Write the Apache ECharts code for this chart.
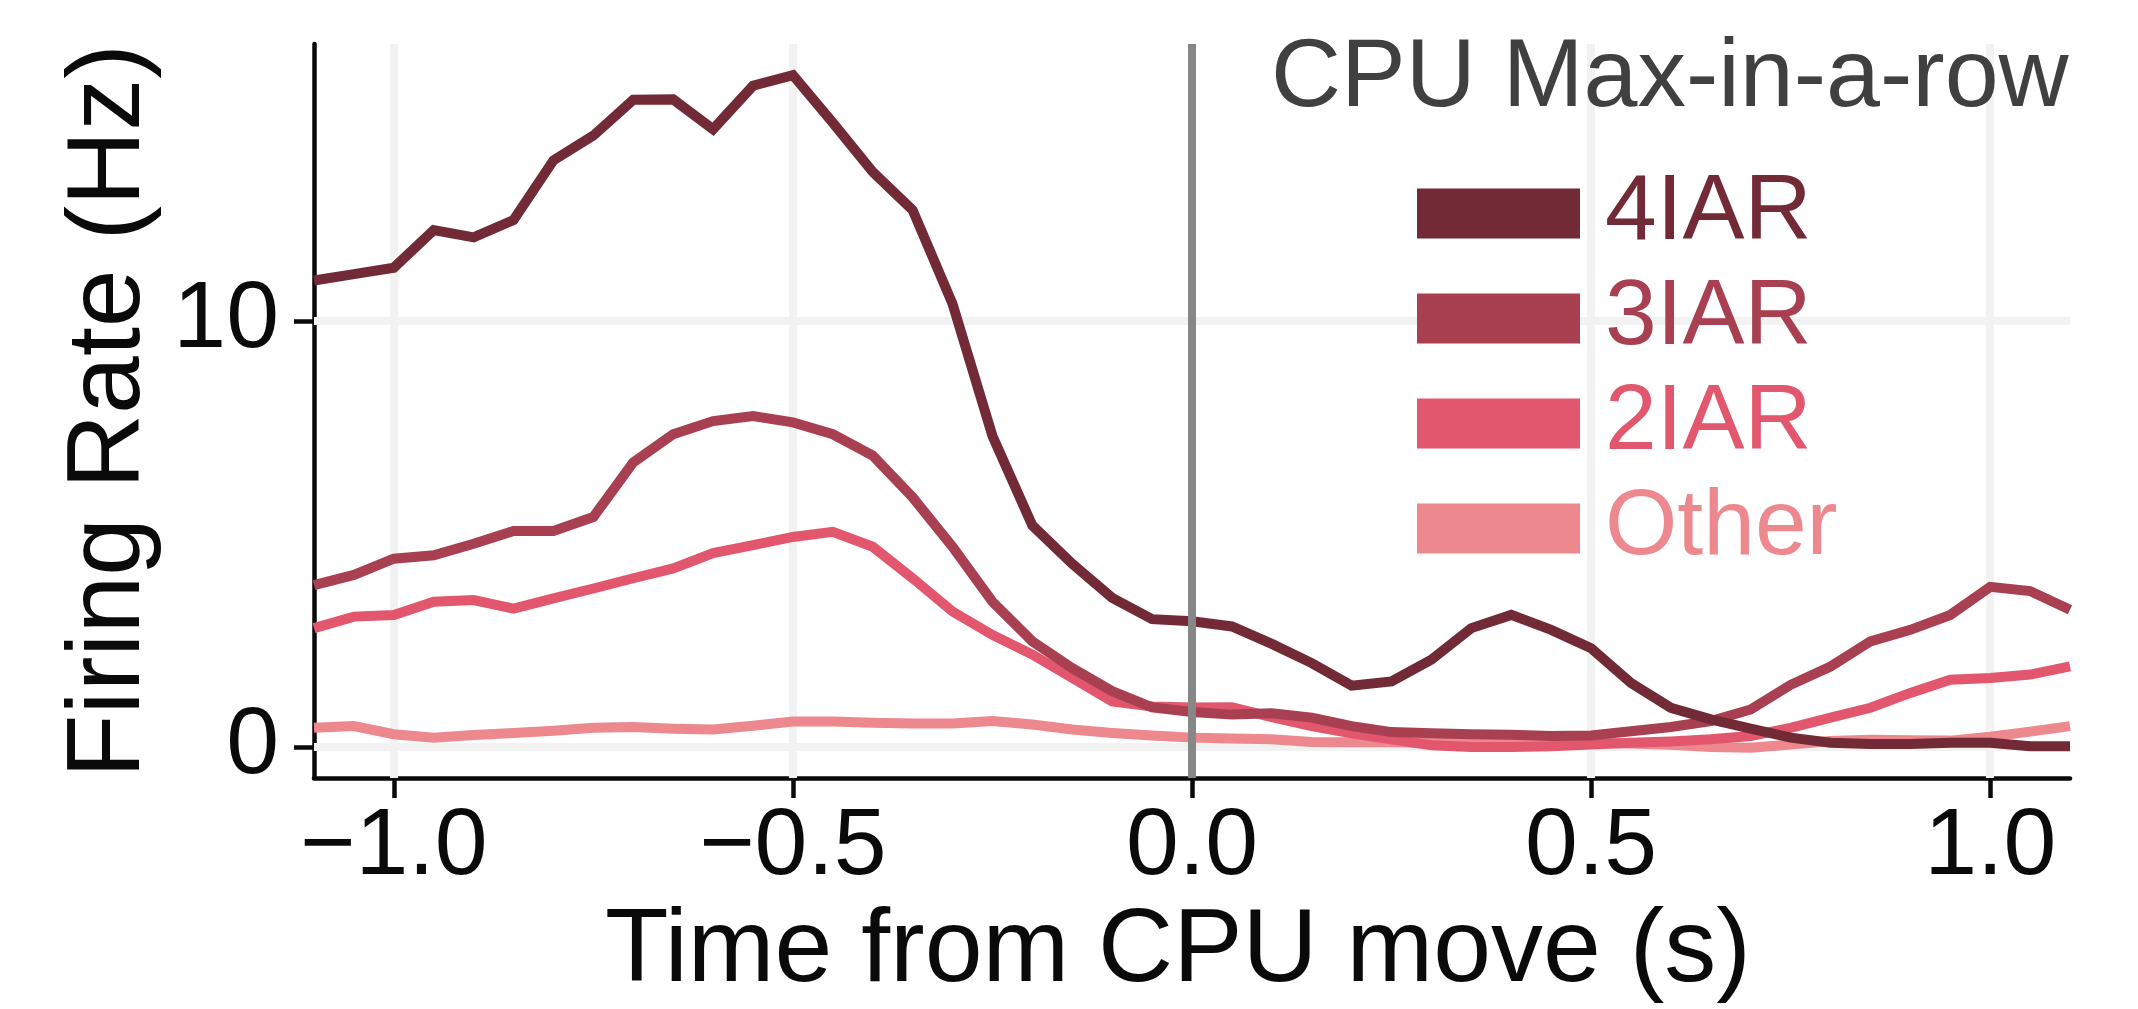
<!DOCTYPE html>
<html>
<head>
<meta charset="utf-8">
<script src="https://cdn.jsdelivr.net/npm/echarts@6/dist/echarts.min.js"></script>
<style>html,body{margin:0;padding:0;background:#fff;}#c{width:2138px;height:1009px;}</style>
</head>
<body>
<div id="c"></div>
<script>
const times = [-1.1,-1.05,-1.0,-0.95,-0.9,-0.85,-0.8,-0.75,-0.7,-0.65,-0.6,-0.55,-0.5,-0.45,-0.4,-0.35,-0.3,-0.25,-0.2,-0.15,-0.1,-0.05,0,0.05,0.1,0.15,0.2,0.25,0.3,0.35,0.4,0.45,0.5,0.55,0.6,0.65,0.7,0.75,0.8,0.85,0.9,0.95,1.0,1.05,1.1];
const iar4 = [10.95,11.1,11.25,12.13,11.96,12.37,13.77,14.35,15.19,15.2,14.5,15.52,15.77,14.65,13.5,12.6,10.4,7.3,5.2,4.3,3.5,3.0,2.95,2.83,2.42,1.97,1.44,1.54,2.05,2.79,3.1,2.75,2.32,1.5,0.92,0.65,0.43,0.22,0.1,0.07,0.07,0.1,0.1,0.02,0.02];
const iar3 = [3.8,4.04,4.42,4.5,4.77,5.07,5.07,5.4,6.68,7.34,7.65,7.77,7.62,7.34,6.84,5.86,4.7,3.41,2.48,1.85,1.31,0.93,0.82,0.76,0.79,0.69,0.49,0.35,0.32,0.3,0.29,0.26,0.27,0.37,0.47,0.61,0.88,1.46,1.89,2.48,2.75,3.1,3.76,3.66,3.22];
const iar2 = [2.79,3.06,3.1,3.41,3.45,3.25,3.49,3.72,3.96,4.19,4.55,4.74,4.93,5.05,4.7,3.96,3.18,2.63,2.17,1.62,1.07,0.95,0.93,0.93,0.7,0.49,0.32,0.18,0.04,0.0,0.0,0.02,0.06,0.1,0.13,0.18,0.26,0.45,0.69,0.92,1.27,1.58,1.62,1.7,1.89];
const other = [0.45,0.49,0.3,0.22,0.28,0.33,0.38,0.45,0.47,0.43,0.41,0.5,0.6,0.6,0.57,0.55,0.55,0.61,0.53,0.41,0.33,0.27,0.22,0.2,0.18,0.12,0.11,0.11,0.1,0.12,0.12,0.1,0.1,0.08,0.05,0.0,-0.02,0.06,0.14,0.17,0.16,0.15,0.24,0.36,0.49];
const seriesNames = ['4IAR','3IAR','2IAR','Other'];
const seriesColors = ['#712a36','#a84051','#e2566e','#ec888e'];
const xTicks = [-1.0,-0.5,0.0,0.5,1.0];
const yTicks = [0,10];
const xGrid = [-1.0,-0.5,0.5,1.0];
const yGrid = [0,10];
const eventTime = [0];

const FONT = '"Liberation Sans", Arial, Helvetica, sans-serif';
const seriesVals = [iar4, iar3, iar2, other];
const toPairs = v => times.map((t,i)=>[t, v[i]]);

const lineSeries = seriesNames.map((n,i)=>({
  name:n, type:'line', data: toPairs(seriesVals[i]), symbol:'none', smooth:false,
  lineStyle:{color:seriesColors[i], width:10, join:'miter', cap:'butt'},
  itemStyle:{color:seriesColors[i]},
  z: 10 - i, silent:true
}));

const gridSeries = {
  name:'_grid', type:'line', data:[], silent:true, z:1,
  markLine:{
    silent:true, symbol:'none', label:{show:false}, animation:false, z:1,
    data: [
      ...xGrid.map(v=>({xAxis:v, lineStyle:{color:'#f2f2f2', width:8, type:'solid'}})),
      ...yGrid.map(v=>({yAxis:v, lineStyle:{color:'#f2f2f2', width:8, type:'solid'}}))
    ]
  }
};
const eventSeries = {
  name:'_event', type:'line', data:[], silent:true, z:20,
  markLine:{
    silent:true, symbol:'none', label:{show:false}, animation:false, z:20,
    data: eventTime.map(v=>({xAxis:v, lineStyle:{color:'#878787', width:8, type:'solid'}}))
  }
};

const fmtX = v => { const s = Math.abs(v).toFixed(1); return (v < -1e-9 ? '\u2212' : '') + s; };

const option = {
  animation:false,
  backgroundColor:'#ffffff',
  grid:{left:314, right:68, top:44, bottom:226, containLabel:false},
  title:{
    text:'CPU Max-in-a-row', left:1266, top:26,
    textStyle:{fontFamily:FONT, fontSize:97, fontWeight:'normal', color:'#404040'}
  },
  legend:{
    data: seriesNames.map((n,i)=>({name:n, textStyle:{color:seriesColors[i]}})),
    orient:'vertical', left:1412, top:162, icon:'rect', z:10,
    itemWidth:163, itemHeight:50, itemGap:12,
    textStyle:{fontFamily:FONT, fontSize:93, padding:[0,0,0,20]},
    selectedMode:false
  },
  xAxis:{
    type:'value', min:-1.1, max:1.1,
    name:'Time from CPU move (s)', nameLocation:'middle', nameGap:118,
    nameTextStyle:{fontFamily:FONT, fontSize:104, color:'#0a0a0a', padding:[0,28,0,0]},
    axisLine:{show:true, onZero:false, lineStyle:{color:'#0a0a0a', width:4.5}},
    axisTick:{show:true, length:20, inside:false, customValues:xTicks, lineStyle:{color:'#0a0a0a', width:4.5}},
    axisLabel:{customValues:xTicks, formatter:fmtX, fontFamily:FONT, fontSize:95, color:'#0a0a0a', margin:22},
    splitLine:{show:false}
  },
  yAxis:{
    type:'value', min:-0.73, max:16.5,
    name:'Firing Rate (Hz)', nameLocation:'middle', nameGap:150,
    nameTextStyle:{fontFamily:FONT, fontSize:104, color:'#0a0a0a'},
    axisLine:{show:true, onZero:false, lineStyle:{color:'#0a0a0a', width:4.5}},
    axisTick:{show:true, length:20, inside:false, customValues:yTicks, lineStyle:{color:'#0a0a0a', width:4.5}},
    axisLabel:{customValues:yTicks, fontFamily:FONT, fontSize:95, color:'#0a0a0a', margin:35},
    splitLine:{show:false}
  },
  series:[gridSeries, ...lineSeries, eventSeries]
};

const chart = echarts.init(document.getElementById('c'), null, {renderer:'canvas'});
chart.setOption(option);
</script>
</body>
</html>
